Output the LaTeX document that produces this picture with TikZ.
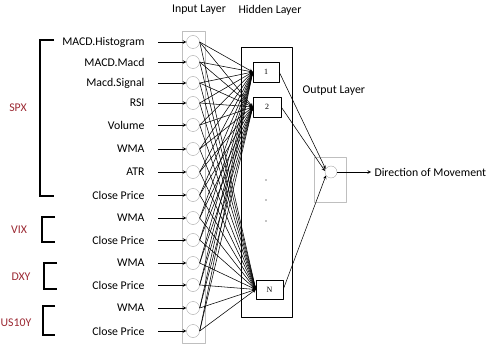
\documentclass[tikz,border=0pt]{standalone}
\usepackage{fontspec}
\setmainfont{Carlito}
\newfontfamily\serifnum{Liberation Serif}
\definecolor{groupred}{RGB}{155,40,50}
\tikzset{
  incirc/.style={circle, draw=gray!70, minimum size=13pt, inner sep=0pt},
  layerbox/.style={draw=gray!50, inner sep=0pt},
  hidbox/.style={draw, inner sep=0pt, font=\serifnum\fontsize{8}{9}\selectfont},
  grouplab/.style={text=groupred},
  bracketline/.style={line width=1.6pt, line cap=butt, line join=miter},
  wire/.style={->, line width=0.55pt}
}
\begin{document}
\begin{tikzpicture}[x=1pt, y=-1pt, font=\fontsize{11.8}{13}\selectfont, line join=round, >=stealth]
  \useasboundingbox (0,0) rectangle (489,347);
  % titles
  \node (intitle) at (199,10) {Input Layer};
  \node (hidtitle) at (270,10) {Hidden Layer};
  \node[anchor=west] (outtitle) at (299,91) {Output Layer};
  % input layer
  \node[layerbox, minimum width=23pt, minimum height=312pt] (inbox) at (193.5,187) {};
  \foreach \y [count=\i] in {42,62,83,103,125,149,172,195,218,240,263,285,308,331}
    \node[incirc] (in\i) at (193,\y) {};
  \foreach \t [count=\i] in {MACD.Histogram,MACD.Macd,Macd.Signal,RSI,Volume,WMA,ATR,Close Price,WMA,Close Price,WMA,Close Price,WMA,Close Price}{
    \node[anchor=east] (lab\i) at (148,0 |- in\i) {\t};
    \draw[wire] (158,0 |- in\i) -- (in\i.west);
  }
  % groups
  \draw[bracketline] (54,40) -- (40,40) -- (40,196) -- (54,196);
  \draw[bracketline] (55,217) -- (42,217) -- (42,242) -- (55,242);
  \draw[bracketline] (57,263) -- (44,263) -- (44,289) -- (57,289);
  \draw[bracketline] (55,306) -- (43,306) -- (43,335) -- (55,335);
  \node[grouplab] (spx) at (18,108) {SPX};
  \node[grouplab] (vix) at (19,230) {VIX};
  \node[grouplab] (dxy) at (21,277) {DXY};
  \node[grouplab] (usy) at (16,323) {US10Y};
  % hidden layer
  \node[draw, minimum width=51pt, minimum height=270pt] (hidden) at (266.5,182) {};
  \node[hidbox, minimum width=26pt, minimum height=20pt] (h1) at (266,72) {1};
  \node[hidbox, minimum width=28pt, minimum height=20pt] (h2) at (267,107) {2};
  \node[hidbox, minimum width=27pt, minimum height=19pt] (hN) at (269.5,289.5) {N};
  \foreach \y in {180,200,221}
    \fill (266,\y) circle (0.6pt);
  \foreach \i in {1,...,14}
    \foreach \h in {h1,h2,hN}
      \draw[wire] (in\i.east) -- (\h.west);
  % output layer
  \node[layerbox, minimum width=32pt, minimum height=45pt] (outbox) at (330,179.5) {};
  \node[incirc, minimum size=12pt] (outc) at (331,172) {};
  \draw[wire] (h1.east) -- (outc.150);
  \draw[wire] (h2.east) -- (outc.170);
  \draw[wire] (hN.east) -- (outc.215);
  \node[anchor=west] (dir) at (371,172) {Direction of Movement};
  \draw[wire] (outc.east) -- (dir.west);
\end{tikzpicture}
\end{document}
